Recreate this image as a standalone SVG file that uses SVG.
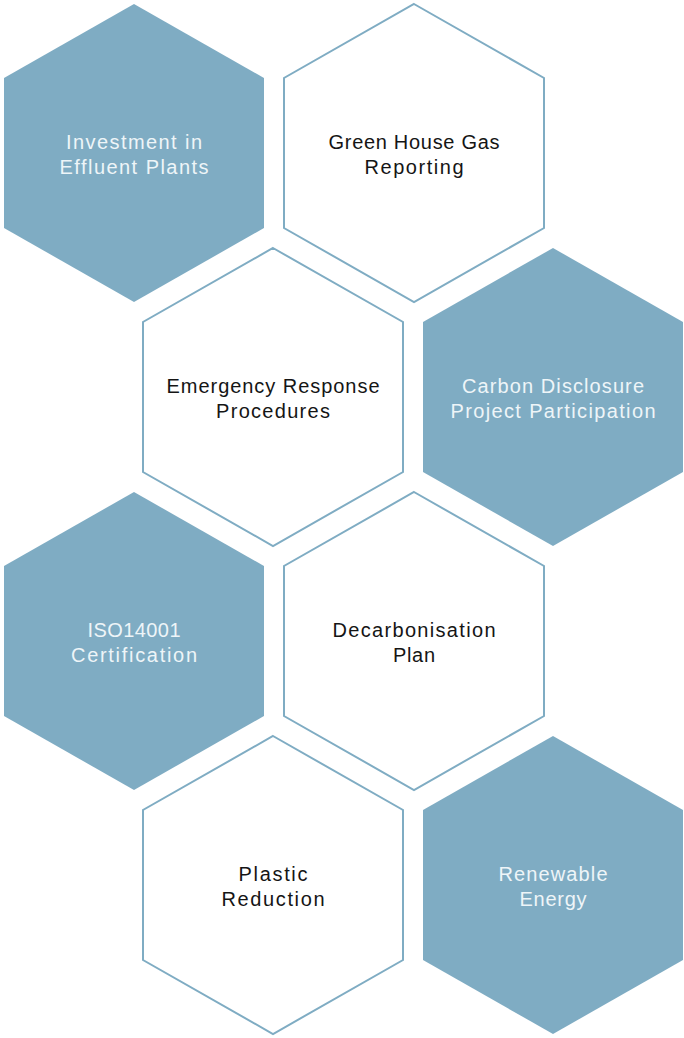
<svg xmlns="http://www.w3.org/2000/svg" width="684" height="1038" viewBox="0 0 684 1038">
<defs>
<style>
.fill{fill:#7facc3;stroke:none}
.line{fill:#ffffff;stroke:#7facc3;stroke-width:2}
text{font-family:"Liberation Sans",Arial,sans-serif;font-size:20px;text-anchor:middle}
.lt{fill:#eef5f8}
.dk{fill:#151515}
</style>
<polygon id="hex" points="0,-149 130,-75 130,75 0,149 -130,75 -130,-75"/>
</defs>
<rect width="684" height="1038" fill="#ffffff"/>
<g id="connectors"/>
<g id="n1" transform="translate(134,153)"><use href="#hex" class="fill"/><text class="lt" y="-4.5" textLength="136" lengthAdjust="spacing">Investment in</text><text class="lt" y="21" textLength="149" lengthAdjust="spacing">Effluent Plants</text></g>
<g id="n2" transform="translate(414,153)"><use href="#hex" class="line"/><text class="dk" y="-4.5" textLength="171" lengthAdjust="spacing">Green House Gas</text><text class="dk" y="21" textLength="99" lengthAdjust="spacing">Reporting</text></g>
<g id="n3" transform="translate(273,397)"><use href="#hex" class="line"/><text class="dk" y="-4.5" textLength="213" lengthAdjust="spacing">Emergency Response</text><text class="dk" y="21" textLength="114" lengthAdjust="spacing">Procedures</text></g>
<g id="n4" transform="translate(553,397)"><use href="#hex" class="fill"/><text class="lt" y="-4.5" textLength="182" lengthAdjust="spacing">Carbon Disclosure</text><text class="lt" y="21" textLength="205" lengthAdjust="spacing">Project Participation</text></g>
<g id="n5" transform="translate(134,641)"><use href="#hex" class="fill"/><text class="lt" y="-4.5" textLength="93" lengthAdjust="spacing">ISO14001</text><text class="lt" y="21" textLength="126" lengthAdjust="spacing">Certification</text></g>
<g id="n6" transform="translate(414,641)"><use href="#hex" class="line"/><text class="dk" y="-4.5" textLength="163" lengthAdjust="spacing">Decarbonisation</text><text class="dk" y="21" textLength="42" lengthAdjust="spacing">Plan</text></g>
<g id="n7" transform="translate(273,885)"><use href="#hex" class="line"/><text class="dk" y="-4.5" textLength="69" lengthAdjust="spacing">Plastic</text><text class="dk" y="21" textLength="103" lengthAdjust="spacing">Reduction</text></g>
<g id="n8" transform="translate(553,885)"><use href="#hex" class="fill"/><text class="lt" y="-4.5" textLength="109" lengthAdjust="spacing">Renewable</text><text class="lt" y="21" textLength="67" lengthAdjust="spacing">Energy</text></g>
</svg>
